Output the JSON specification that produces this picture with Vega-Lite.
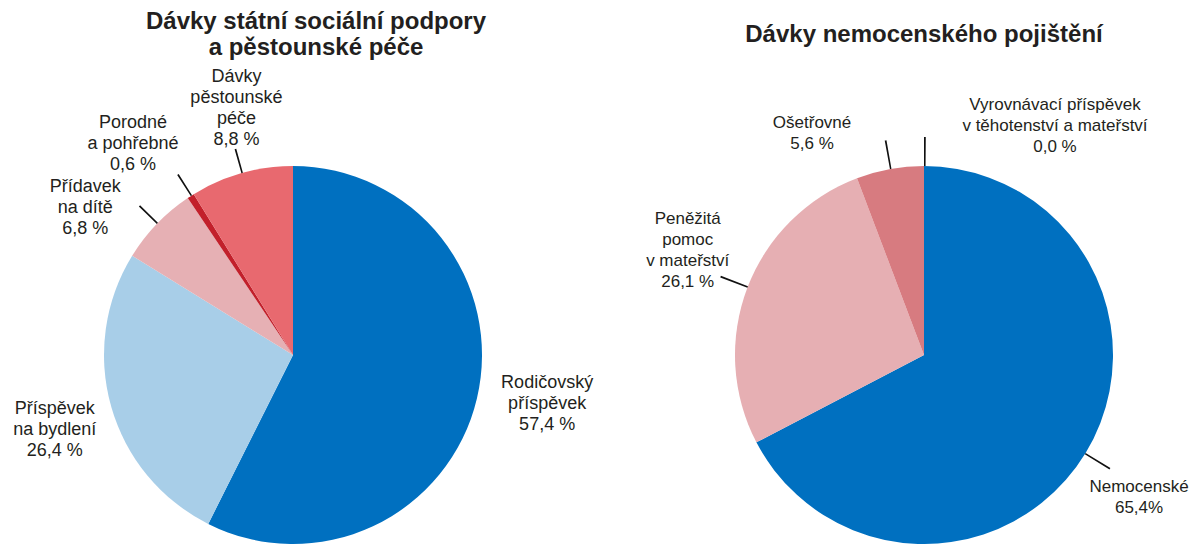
{
  "$schema": "https://vega.github.io/schema/vega-lite/v6.json",
  "padding": {"top": 9, "left": 0, "right": 0, "bottom": 0},
  "autosize": {"type": "pad"},
  "background": "white",
  "config": {
    "view": {"stroke": null},
    "font": "Liberation Sans",
    "title": {"font": "Liberation Sans", "fontSize": 24, "fontWeight": "bold", "color": "#231F20", "anchor": "middle", "lineHeight": 26},
    "text": {"font": "Liberation Sans", "fontSize": 17, "lineHeight": 21, "color": "#231F20", "lineBreak": "\n", "align": "center", "baseline": "middle"}
  },
  "datasets": {
    "left": [
      {"name": "Rodičovský příspěvek", "value": 57.4, "label": "Rodičovský\npříspěvek\n57,4 %"},
      {"name": "Příspěvek na bydlení", "value": 26.4, "label": "Příspěvek\nna bydlení\n26,4 %"},
      {"name": "Přídavek na dítě", "value": 6.8, "label": "Přídavek\nna dítě\n6,8 %"},
      {"name": "Porodné a pohřebné", "value": 0.6, "label": "Porodné\na pohřebné\n0,6 %"},
      {"name": "Dávky pěstounské péče", "value": 8.8, "label": "Dávky\npěstounské\npéče\n8,8 %"}
    ],
    "right": [
      {"name": "Nemocenské", "value": 65.4, "label": "Nemocenské\n65,4%"},
      {"name": "Peněžitá pomoc v mateřství", "value": 26.1, "label": "Peněžitá\npomoc\nv mateřství\n26,1 %"},
      {"name": "Ošetřovné", "value": 5.6, "label": "Ošetřovné\n5,6 %"},
      {"name": "Vyrovnávací příspěvek v těhotenství a mateřství", "value": 0.0, "label": "Vyrovnávací příspěvek\nv těhotenství a mateřství\n0,0 %"}
    ]
  },
  "spacing": 71,
  "bounds": "flush",
  "hconcat": [
    {
      "width": 586,
      "height": 378,
      "title": {"text": ["Dávky státní sociální podpory", "a pěstounské péče"], "offset": 8, "dx": 23},
      "data": {"name": "left"},
      "transform": [
        {"joinaggregate": [{"op": "sum", "field": "value", "as": "total"}]},
        {"window": [{"op": "sum", "field": "value", "as": "cum"}], "frame": [null, 0]},
        {"calculate": "(datum.cum - datum.value) / datum.total", "as": "start"},
        {"calculate": "datum.cum / datum.total", "as": "end"},
        {"calculate": "(datum.cum - datum.value / 2) / datum.total", "as": "mid"},
        {"calculate": "datum.mid + 0.0013", "as": "mid2"}
      ],
      "encoding": {
        "theta": {"field": "start", "type": "quantitative", "stack": null, "scale": {"domain": [0, 1], "range": [0, 6.283185307]}}
      },
      "layer": [
        {
          "mark": {"type": "arc", "outerRadius": 189, "stroke": null},
          "encoding": {
            "theta2": {"field": "end"},
            "color": {"field": "name", "type": "nominal", "legend": null,
              "scale": {"domain": ["Rodičovský příspěvek", "Příspěvek na bydlení", "Přídavek na dítě", "Porodné a pohřebné", "Dávky pěstounské péče", "Nemocenské", "Peněžitá pomoc v mateřství", "Ošetřovné", "Vyrovnávací příspěvek v těhotenství a mateřství"],
                        "range": ["#0070C0", "#A8CEE8", "#E6B0B4", "#C2202B", "#E8696F", "#0070C0", "#E6AFB3", "#D77B80", "#C2202B"]}}
          }
        },
        {
          "transform": [{"filter": "datum.value < 10"}],
          "mark": {"type": "arc", "innerRadius": 189, "outerRadius": 214, "color": "#111111", "stroke": null},
          "encoding": {
            "theta": {"field": "mid", "type": "quantitative", "stack": null},
            "theta2": {"field": "mid2"}
          }
        },
        {
          "transform": [{"filter": "datum.name == 'Rodičovský příspěvek'"}],
          "mark": {"type": "text", "radius": 255, "dx": 6, "dy": -31, "fontSize": 18},
          "encoding": {"theta": {"field": "mid", "type": "quantitative", "stack": null}, "text": {"field": "label"}}
        },
        {
          "transform": [{"filter": "datum.name == 'Příspěvek na bydlení'"}],
          "mark": {"type": "text", "radius": 255, "dx": 7, "dy": -16, "fontSize": 18},
          "encoding": {"theta": {"field": "mid", "type": "quantitative", "stack": null}, "text": {"field": "label"}}
        },
        {
          "transform": [{"filter": "datum.name == 'Přídavek na dítě'"}],
          "mark": {"type": "text", "radius": 255, "dx": -24, "dy": 9, "fontSize": 18},
          "encoding": {"theta": {"field": "mid", "type": "quantitative", "stack": null}, "text": {"field": "label"}}
        },
        {
          "transform": [{"filter": "datum.name == 'Porodné a pohřebné'"}],
          "mark": {"type": "text", "radius": 255, "dx": -22, "dy": -18, "fontSize": 18},
          "encoding": {"theta": {"field": "mid", "type": "quantitative", "stack": null}, "text": {"field": "label"}}
        },
        {
          "transform": [{"filter": "datum.name == 'Dávky pěstounské péče'"}],
          "mark": {"type": "text", "radius": 255, "dx": 13, "dy": -33, "fontSize": 18},
          "encoding": {"theta": {"field": "mid", "type": "quantitative", "stack": null}, "text": {"field": "label"}}
        }
      ]
    },
    {
      "width": 534,
      "height": 378,
      "title": {"text": "Dávky nemocenského pojištění", "offset": 49},
      "data": {"name": "right"},
      "transform": [
        {"joinaggregate": [{"op": "sum", "field": "value", "as": "total"}]},
        {"window": [{"op": "sum", "field": "value", "as": "cum"}], "frame": [null, 0]},
        {"calculate": "(datum.cum - datum.value) / datum.total", "as": "start"},
        {"calculate": "datum.cum / datum.total", "as": "end"},
        {"calculate": "(datum.cum - datum.value / 2) / datum.total", "as": "mid"},
        {"calculate": "datum.mid + 0.0013", "as": "mid2"}
      ],
      "encoding": {
        "theta": {"field": "start", "type": "quantitative", "stack": null, "scale": {"domain": [0, 1], "range": [0, 6.283185307]}}
      },
      "layer": [
        {
          "mark": {"type": "arc", "outerRadius": 189, "stroke": null},
          "encoding": {
            "theta2": {"field": "end"},
            "color": {"field": "name", "type": "nominal", "legend": null,
              "scale": {"domain": ["Rodičovský příspěvek", "Příspěvek na bydlení", "Přídavek na dítě", "Porodné a pohřebné", "Dávky pěstounské péče", "Nemocenské", "Peněžitá pomoc v mateřství", "Ošetřovné", "Vyrovnávací příspěvek v těhotenství a mateřství"],
                        "range": ["#0070C0", "#A8CEE8", "#E6B0B4", "#C2202B", "#E8696F", "#0070C0", "#E6AFB3", "#D77B80", "#C2202B"]}}
          }
        },
        {
          "mark": {"type": "arc", "innerRadius": 189, "outerRadius": 218, "color": "#111111", "stroke": null},
          "encoding": {
            "theta": {"field": "mid", "type": "quantitative", "stack": null},
            "theta2": {"field": "mid2"}
          }
        },
        {
          "transform": [{"filter": "datum.name == 'Nemocenské'"}],
          "mark": {"type": "text", "radius": 255, "dx": -3, "dy": 0},
          "encoding": {"theta": {"field": "mid", "type": "quantitative", "stack": null}, "text": {"field": "label"}}
        },
        {
          "transform": [{"filter": "datum.name == 'Peněžitá pomoc v mateřství'"}],
          "mark": {"type": "text", "radius": 255, "dx": 2, "dy": -45},
          "encoding": {"theta": {"field": "mid", "type": "quantitative", "stack": null}, "text": {"field": "label"}}
        },
        {
          "transform": [{"filter": "datum.name == 'Ošetřovné'"}],
          "mark": {"type": "text", "radius": 255, "dx": -66, "dy": 19},
          "encoding": {"theta": {"field": "mid", "type": "quantitative", "stack": null}, "text": {"field": "label"}}
        },
        {
          "transform": [{"filter": "datum.name == 'Vyrovnávací příspěvek v těhotenství a mateřství'"}],
          "mark": {"type": "text", "radius": 255, "dx": 131, "dy": 5},
          "encoding": {"theta": {"field": "mid", "type": "quantitative", "stack": null}, "text": {"field": "label"}}
        }
      ]
    }
  ]
}
